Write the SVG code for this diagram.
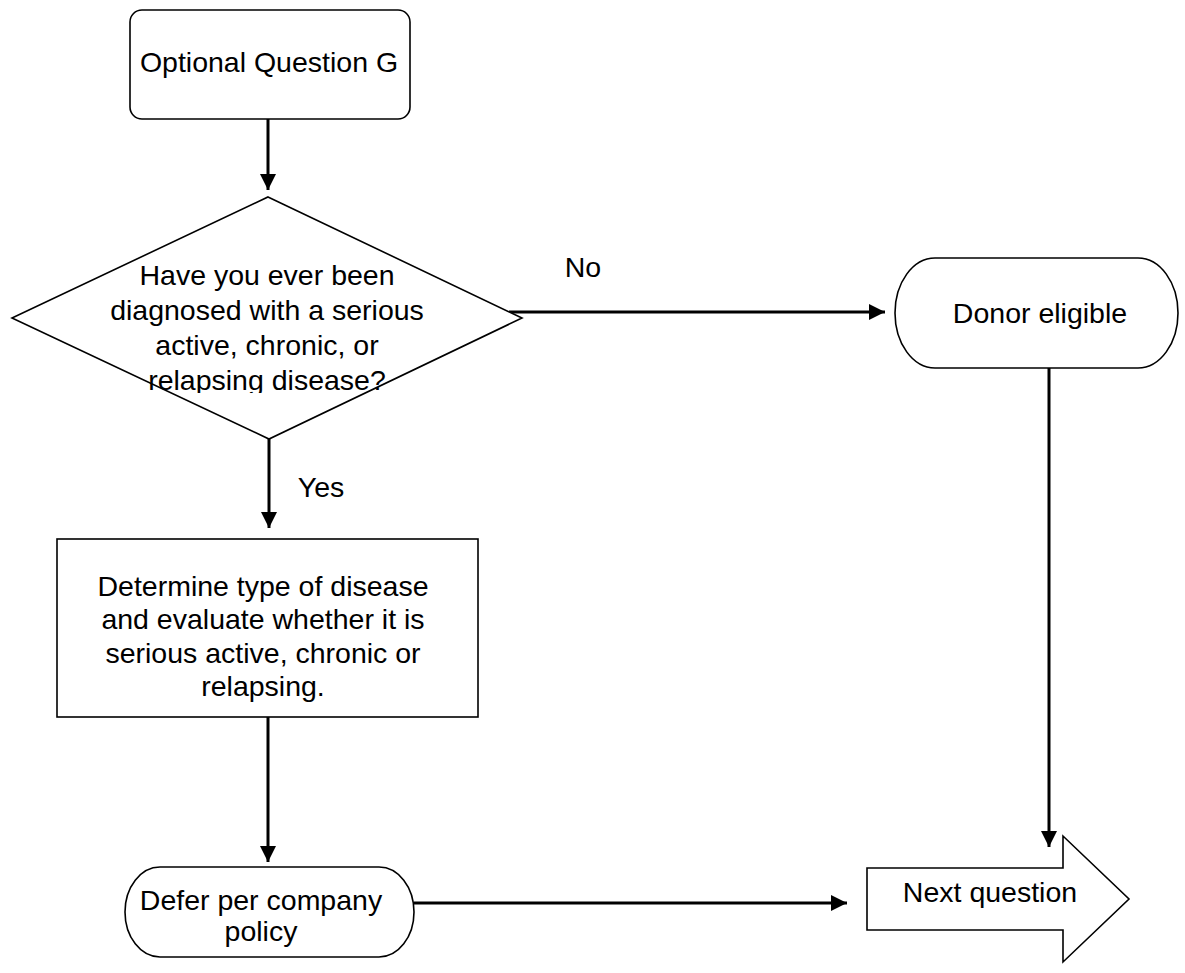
<svg xmlns="http://www.w3.org/2000/svg" width="1185" height="973" viewBox="0 0 1185 973">
<style>
.shape{fill:#fff;stroke:#000;stroke-width:1.6}
.conn{fill:none;stroke:#000;stroke-width:3}
text{font-family:"Liberation Sans",Arial,sans-serif;font-size:28.5px;fill:#000;text-anchor:middle}
</style>
<defs>
<marker id="ah" markerUnits="userSpaceOnUse" markerWidth="16" markerHeight="16" refX="16" refY="8" orient="auto">
<path d="M0,0 L16,8 L0,16 z" fill="#000"/>
</marker>
<clipPath id="dclip"><rect x="0" y="190" width="540" height="203"/></clipPath>
</defs>
<rect width="1185" height="973" fill="#fff"/>
<g id="connectors">
<line class="conn" x1="509" y1="312" x2="885" y2="312" marker-end="url(#ah)"/>
<line class="conn" x1="268" y1="119" x2="268" y2="190" marker-end="url(#ah)"/>
<line class="conn" x1="269" y1="439" x2="269" y2="528" marker-end="url(#ah)"/>
<line class="conn" x1="268" y1="717" x2="268" y2="862" marker-end="url(#ah)"/>
<line class="conn" x1="414" y1="903" x2="847" y2="903" marker-end="url(#ah)"/>
<line class="conn" x1="1049" y1="368" x2="1049" y2="847" marker-end="url(#ah)"/>
<text x="583" y="277">No</text>
<text x="321" y="497">Yes</text>
</g>
<g id="start">
<rect class="shape" x="130" y="10" width="280" height="109" rx="12"/>
<text x="269" y="72">Optional Question G</text>
</g>
<g id="decision">
<polygon class="shape" points="268,197 522,318 269,439 12,318"/>
<g clip-path="url(#dclip)">
<text x="267" y="285">Have you ever been</text>
<text x="267" y="320">diagnosed with a serious</text>
<text x="267" y="355">active, chronic, or</text>
<text x="267" y="390">relapsing disease?</text>
</g>
</g>
<g id="eligible">
<rect class="shape" x="895" y="258" width="283" height="110" rx="40" ry="55"/>
<text x="1040" y="323">Donor eligible</text>
</g>
<g id="determine">
<rect class="shape" x="57" y="539" width="421" height="178"/>
<text x="263" y="596">Determine type of disease</text>
<text x="263" y="629">and evaluate whether it is</text>
<text x="263" y="663">serious active, chronic or</text>
<text x="263" y="696">relapsing.</text>
</g>
<g id="defer">
<rect class="shape" x="125" y="867" width="289" height="90" rx="35" ry="45"/>
<text x="261" y="910">Defer per company</text>
<text x="261" y="941">policy</text>
</g>
<g id="next">
<polygon class="shape" points="867,868 1063,868 1063,836 1129,899 1063,962 1063,930 867,930"/>
<text x="990" y="902">Next question</text>
</g>
</svg>
